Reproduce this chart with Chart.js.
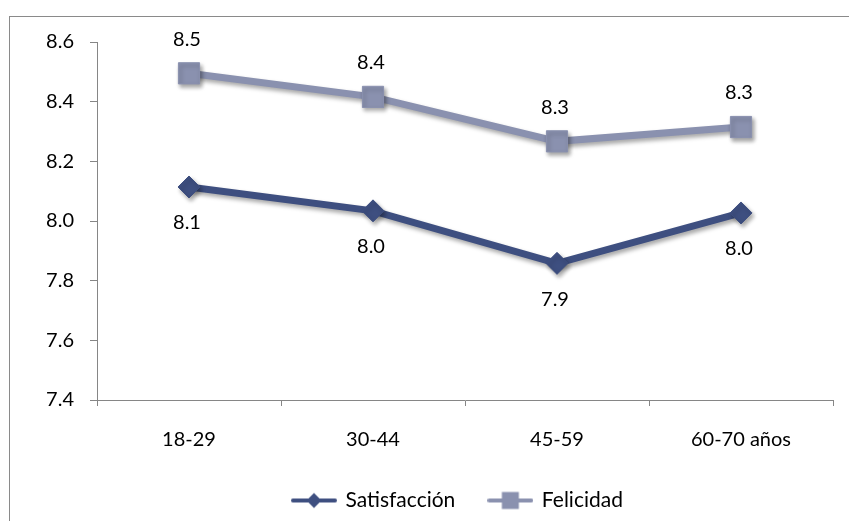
<!DOCTYPE html>
<html>
<head>
<meta charset="utf-8">
<script src="https://cdn.jsdelivr.net/npm/chart.js@4"></script>
<style>
  html, body { margin: 0; padding: 0; background: #ffffff; }
  #wrap { width: 849px; height: 521px; position: relative; }
</style>
</head>
<body>
<div id="wrap"><canvas id="c" width="849" height="521"></canvas></div>
<script>
const categories = ['18-29', '30-44', '45-59', '60-70 años'];
const satisfaccion = [8.114, 8.034, 7.858, 8.027];
const felicidad = [8.495, 8.416, 8.267, 8.315];
const seriesNames = ['Satisfacción', 'Felicidad'];
const yTicks = [7.4, 7.6, 7.8, 8.0, 8.2, 8.4, 8.6];

const COL_SAT = '#3E4F80';
const COL_FEL = '#8A91AF';
const FONT = 'Lato, "Open Sans", sans-serif';

function legendIcon(color, style) {
  const cv = document.createElement('canvas');
  cv.width = 46; cv.height = 22;
  const g = cv.getContext('2d');
  g.strokeStyle = color; g.lineWidth = 4; g.lineCap = 'round';
  g.beginPath(); g.moveTo(2, 11); g.lineTo(44, 11); g.stroke();
  g.fillStyle = color;
  g.beginPath();
  if (style === 'diamond') {
    g.moveTo(23, 3.5); g.lineTo(30.5, 11); g.lineTo(23, 18.5); g.lineTo(15.5, 11); g.closePath();
  } else {
    g.rect(14.5, 2.5, 17, 17);
  }
  g.fill();
  return cv;
}
const icons = [legendIcon(COL_SAT, 'diamond'), legendIcon(COL_FEL, 'square')];

const framePlugin = {
  id: 'frame',
  beforeDraw(chart) {
    const ctx = chart.ctx;
    ctx.save();
    ctx.strokeStyle = '#8a8a8a';
    ctx.lineWidth = 1;
    ctx.strokeRect(9.5, 16.5, 1000, 1000);
    ctx.restore();
  }
};

const shadowLabelPlugin = {
  id: 'shadowLabels',
  afterLayout(chart) {
    const lg = chart.legend;
    if (!lg || !lg.lineWidths) return;
    const pad = lg.options.labels.padding;
    const startX = (lg.left + pad + lg.right - lg.lineWidths[0]) / 2;
    const delta = 293 - startX;
    lg.left += delta; lg.right += delta;
  },
  beforeDatasetsDraw(chart) {
    const ctx = chart.ctx;
    ctx.save();
    ctx.shadowColor = 'rgba(0,0,0,0.35)';
    ctx.shadowBlur = 4;
    ctx.shadowOffsetX = 2;
    ctx.shadowOffsetY = 3;
  },
  afterDatasetsDraw(chart) {
    const ctx = chart.ctx;
    ctx.restore();
    ctx.save();
    ctx.font = '20px ' + FONT;
    ctx.fillStyle = '#000000';
    ctx.textAlign = 'center';
    ctx.textBaseline = 'middle';
    chart.data.datasets.forEach((ds, di) => {
      const meta = chart.getDatasetMeta(di);
      const off = di === 0 ? 36 : -34;
      meta.data.forEach((pt, i) => {
        ctx.fillText(ds.data[i].toFixed(1), pt.x - 2, pt.y + off);
      });
    });
    ctx.restore();
  }
};

new Chart(document.getElementById('c'), {
  type: 'line',
  data: {
    labels: categories,
    datasets: [
      {
        label: seriesNames[0],
        data: satisfaccion,
        borderColor: COL_SAT,
        backgroundColor: COL_SAT,
        borderWidth: 7,
        pointStyle: 'rectRot',
        pointRadius: 11,
        pointBorderWidth: 1,
        pointBackgroundColor: COL_SAT,
        pointBorderColor: COL_SAT,
        tension: 0
      },
      {
        label: seriesNames[1],
        data: felicidad,
        borderColor: COL_FEL,
        backgroundColor: COL_FEL,
        borderWidth: 7,
        pointStyle: 'rect',
        pointRadius: 15,
        pointBorderWidth: 1,
        pointBackgroundColor: COL_FEL,
        pointBorderColor: COL_FEL,
        tension: 0
      }
    ]
  },
  options: {
    responsive: false,
    animation: false,
    devicePixelRatio: 1,
    layout: { padding: { left: 0, top: 42, right: 11, bottom: 0 } },
    plugins: {
      tooltip: { enabled: false },
      legend: {
        position: 'bottom',
        maxHeight: 68,
        labels: {
          usePointStyle: true,
          pointStyleWidth: 42,
          padding: 34,
          color: '#000000',
          font: { family: FONT, size: 21 },
          generateLabels(chart) {
            return chart.data.datasets.map((ds, i) => ({
              text: ds.label,
              pointStyle: icons[i],
              fillStyle: ds.borderColor,
              strokeStyle: ds.borderColor,
              lineWidth: 0,
              hidden: false,
              datasetIndex: i
            }));
          }
        }
      }
    },
    scales: {
      x: {
        type: 'category',
        offset: true,
        afterFit(s) { s.height = 56; },
        grid: {
          display: true,
          offset: true,
          drawOnChartArea: false,
          drawTicks: true,
          tickLength: 6,
          color: '#868686',
          lineWidth: 1
        },
        border: { display: true, color: '#868686', width: 1 },
        ticks: {
          color: '#000000',
          font: { family: FONT, size: 20 },
          padding: 22,
          maxRotation: 0
        }
      },
      y: {
        min: 7.4,
        max: 8.6,
        afterFit(s) { s.width = 97; },
        afterBuildTicks(s) { s.ticks = yTicks.map(v => ({ value: v })); },
        grid: {
          display: true,
          drawOnChartArea: false,
          drawTicks: true,
          tickLength: 7,
          color: '#868686',
          lineWidth: 1
        },
        border: { display: true, color: '#868686', width: 1 },
        ticks: {
          color: '#000000',
          font: { family: FONT, size: 20 },
          padding: 16,
          callback: v => Number(v).toFixed(1)
        }
      }
    }
  },
  plugins: [framePlugin, shadowLabelPlugin]
});
</script>
</body>
</html>
